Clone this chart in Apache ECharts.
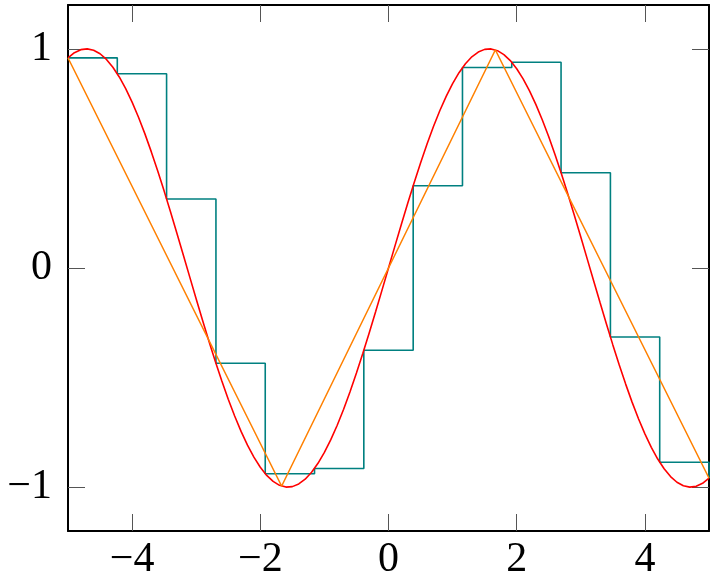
<!DOCTYPE html>
<html>
<head>
<meta charset="utf-8">
<script src="https://cdn.jsdelivr.net/npm/echarts@6/dist/echarts.min.js"></script>
<style>
html,body{margin:0;padding:0;background:#fff;}
#chart{width:714px;height:578px;}
</style>
</head>
<body>
<div id="chart"></div>
<script>
// sin curve samples (red)
const curveX = [-5.0,-4.9,-4.8,-4.7,-4.6,-4.5,-4.4,-4.3,-4.2,-4.1,-4.0,-3.9,-3.8,-3.7,-3.6,-3.5,-3.4,-3.3,-3.2,-3.1,-3.0,-2.9,-2.8,-2.7,-2.6,-2.5,-2.4,-2.3,-2.2,-2.1,-2.0,-1.9,-1.8,-1.7,-1.6,-1.5,-1.4,-1.3,-1.2,-1.1,-1.0,-0.9,-0.8,-0.7,-0.6,-0.5,-0.4,-0.3,-0.2,-0.1,0.0,0.1,0.2,0.3,0.4,0.5,0.6,0.7,0.8,0.9,1.0,1.1,1.2,1.3,1.4,1.5,1.6,1.7,1.8,1.9,2.0,2.1,2.2,2.3,2.4,2.5,2.6,2.7,2.8,2.9,3.0,3.1,3.2,3.3,3.4,3.5,3.6,3.7,3.8,3.9,4.0,4.1,4.2,4.3,4.4,4.5,4.6,4.7,4.8,4.9,5.0];
const curveY = [0.9589,0.9825,0.9962,0.9999,0.9937,0.9775,0.9516,0.9162,0.8716,0.8183,0.7568,0.6878,0.6119,0.5298,0.4425,0.3508,0.2555,0.1577,0.0584,-0.0416,-0.1411,-0.2392,-0.3350,-0.4274,-0.5155,-0.5985,-0.6755,-0.7457,-0.8085,-0.8632,-0.9093,-0.9463,-0.9738,-0.9917,-0.9996,-0.9975,-0.9854,-0.9636,-0.9320,-0.8912,-0.8415,-0.7833,-0.7174,-0.6442,-0.5646,-0.4794,-0.3894,-0.2955,-0.1987,-0.0998,0.0,0.0998,0.1987,0.2955,0.3894,0.4794,0.5646,0.6442,0.7174,0.7833,0.8415,0.8912,0.9320,0.9636,0.9854,0.9975,0.9996,0.9917,0.9738,0.9463,0.9093,0.8632,0.8085,0.7457,0.6755,0.5985,0.5155,0.4274,0.3350,0.2392,0.1411,0.0416,-0.0584,-0.1577,-0.2555,-0.3508,-0.4425,-0.5298,-0.6119,-0.6878,-0.7568,-0.8183,-0.8716,-0.9162,-0.9516,-0.9775,-0.9937,-0.9999,-0.9962,-0.9825,-0.9589];
// step (const) plot samples (teal)
const stepX = [-5.0,-4.231,-3.462,-2.692,-1.923,-1.154,-0.385,0.385,1.154,1.923,2.692,3.462,4.231,5.0];
const stepY = [0.9589,0.8861,0.3150,-0.4346,-0.9387,-0.9146,-0.3756,0.3756,0.9146,0.9387,0.4346,-0.3150,-0.8861,-0.9589];
// coarse linear samples (orange)
const lineX = [-5.0,-1.667,1.667,5.0];
const lineY = [0.9589,-0.9954,0.9954,-0.9589];
// tick values
const xTicks = [-4,-2,0,2,4];
const yTicks = [-1,0,1];

const zip = (xs, ys) => xs.map((x, i) => [x, ys[i]]);
const fmt = v => String(v).replace('-', '\u2212');
const font = {fontFamily: '"Liberation Serif", "DejaVu Serif", serif', fontSize: 42, lineHeight: 42, color: '#000'};

const chart = echarts.init(document.getElementById('chart'), null, {renderer: 'canvas'});
const axisLine = {show: true, onZero: false, lineStyle: {color: '#000', width: 2}};
const tick = (vals) => ({show: true, inside: true, length: 17, customValues: vals, lineStyle: {color: '#555', width: 1}});

chart.setOption({
  animation: false,
  backgroundColor: '#fff',
  grid: {left: 68, right: 5, top: 5, bottom: 47, containLabel: false, outerBoundsMode: 'none'},
  xAxis: [
    {type: 'value', min: -5, max: 5, position: 'bottom', axisLine: axisLine, axisTick: tick(xTicks),
     axisLabel: Object.assign({show: true, margin: 8, customValues: xTicks, formatter: fmt}, font),
     splitLine: {show: false}},
    {type: 'value', min: -5, max: 5, position: 'top', axisLine: axisLine, axisTick: tick(xTicks),
     axisLabel: {show: false}, splitLine: {show: false}}
  ],
  yAxis: [
    {type: 'value', min: -1.2, max: 1.2, position: 'left', axisLine: axisLine, axisTick: tick(yTicks),
     axisLabel: Object.assign({show: true, margin: 16, customValues: yTicks, formatter: fmt}, font),
     splitLine: {show: false}},
    {type: 'value', min: -1.2, max: 1.2, position: 'right', axisLine: axisLine, axisTick: tick(yTicks),
     axisLabel: {show: false}, splitLine: {show: false}}
  ],
  series: [
    {type: 'line', data: zip(stepX, stepY), step: 'end', showSymbol: false, symbol: 'none',
     lineStyle: {color: '#008080', width: 1.6}, z: 2},
    {type: 'line', data: zip(curveX, curveY), showSymbol: false, symbol: 'none',
     lineStyle: {color: '#ff0000', width: 1.6}, z: 3},
    {type: 'line', data: zip(lineX, lineY), showSymbol: false, symbol: 'none',
     lineStyle: {color: '#ff8000', width: 1.4}, z: 4}
  ]
});
</script>
</body>
</html>
